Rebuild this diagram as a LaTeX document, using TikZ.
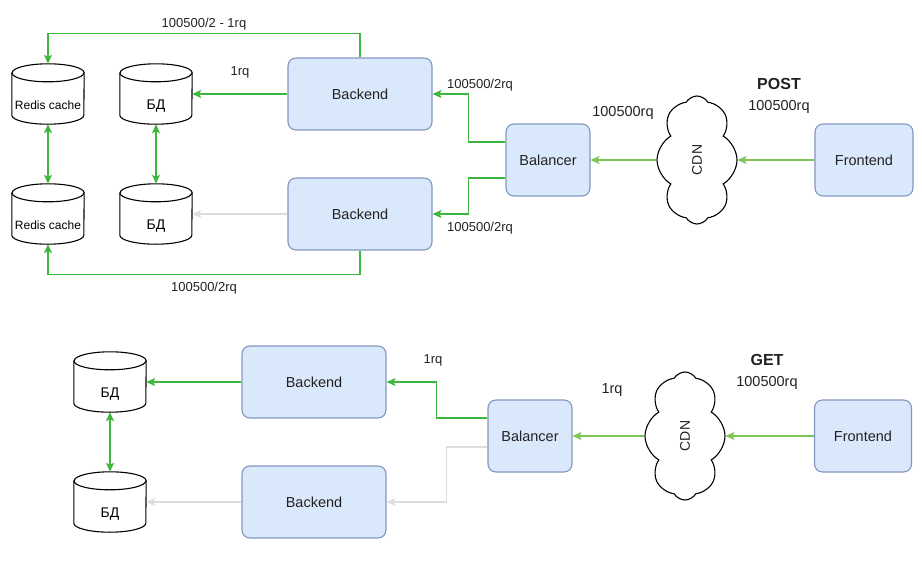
\documentclass[tikz,border=0pt]{standalone}
\usepackage{fontspec}
\setmainfont{Liberation Sans}
\usetikzlibrary{arrows.meta,shapes.symbols}
\definecolor{boxfill}{HTML}{DAE8FC}
\definecolor{boxline}{HTML}{8197BF}
\definecolor{grn}{HTML}{3DB83D}
\definecolor{lgrn}{HTML}{7DC554}
\definecolor{gry}{HTML}{DDDDDD}
\definecolor{txt}{HTML}{222222}
\begin{document}
\begin{tikzpicture}[x=1pt,y=-1pt,
  box/.style={draw=boxline, fill=boxfill, line width=1.1pt, rounded corners=8pt,
    minimum height=72pt, inner sep=0pt, font=\fontsize{14.5}{16}\selectfont, text=txt},
  cylnode/.style={minimum width=72pt, minimum height=60pt, inner sep=0pt,
    text height=45pt, text depth=15pt, font=\fontsize{14}{16}\selectfont, text=black},
  cdn/.style={cloud, draw, line width=1.1pt, cloud puffs=8, cloud puff arc=120,
    aspect=1.6, minimum width=128pt, minimum height=80pt, rotate=90, inner sep=0pt,
    font=\fontsize{14}{16}\selectfont, text=txt},
  garrow/.style={draw=grn, line width=1.3pt, -{Stealth[length=9pt,width=8pt,inset=2pt]}},
  gboth/.style={draw=grn, line width=1.3pt, {Stealth[length=9pt,width=8pt,inset=2pt]}-{Stealth[length=9pt,width=8pt,inset=2pt]}},
  larrow/.style={draw=lgrn, line width=1.3pt, -{Stealth[length=9pt,width=8pt,inset=2pt]}},
  yarrow/.style={draw=gry, line width=1.3pt, -{Stealth[length=9pt,width=8pt,inset=2pt]}},
  lbl/.style={font=\fontsize{13}{15}\selectfont, text=txt, inner sep=0pt},
  biglbl/.style={font=\fontsize{14.5}{16}\selectfont, text=txt, inner sep=0pt},
  boldlbl/.style={font=\fontsize{16}{18}\selectfont\bfseries, text=txt, inner sep=0pt}
]
\useasboundingbox (0,0) rectangle (922,565);

% ---------- POST section ----------
\node[cylnode, font=\fontsize{12}{14}\selectfont] (r1) at (48,94) {Redis cache};
\node[cylnode] (d1) at (156,94) {БД};
\node[cylnode, font=\fontsize{12}{14}\selectfont] (r2) at (48,214) {Redis cache};
\node[cylnode] (d2) at (156,214) {БД};
\node[box, minimum width=144pt] (be1) at (360,94) {Backend};
\node[box, minimum width=144pt] (be2) at (360,214) {Backend};
\node[box, minimum width=84pt] (bal1) at (548,160) {Balancer};
\node[cdn] (cdn1) at (697,160) {CDN};
\node[box, minimum width=98pt] (fe1) at (864,160) {Frontend};

% ---------- GET section ----------
\node[cylnode] (d3) at (110,382) {БД};
\node[cylnode] (d4) at (110,502) {БД};
\node[box, minimum width=144pt] (be3) at (314,382) {Backend};
\node[box, minimum width=144pt] (be4) at (314,502) {Backend};
\node[box, minimum width=84pt] (bal2) at (530,436) {Balancer};
\node[cdn] (cdn2) at (685,436) {CDN};
\node[box, minimum width=97pt] (fe2) at (863,436) {Frontend};

% cylinders
\foreach \n in {r1,r2,d1,d2,d3,d4}{
  \draw[line width=1.1pt] ([yshift=-9pt]\n.north west) -- ([yshift=9pt]\n.south west)
    arc[start angle=180,end angle=360,x radius=36pt,y radius=9pt]
    -- ([yshift=-9pt]\n.north east)
    arc[start angle=0,end angle=180,x radius=36pt,y radius=9pt] -- cycle;
  \draw[line width=1.1pt] ([yshift=-9pt]\n.north west)
    arc[start angle=180,end angle=360,x radius=36pt,y radius=9pt];
}

% POST connectors
\draw[garrow] (be1.north) -- ++(0,-24) -| (r1.north);
\draw[garrow] (be1.west) -- (d1.east);
\draw[yarrow] (be2.west) -- (d2.east);
\draw[garrow] (be2.south) -- ++(0,24) -| (r2.south);
\draw[gboth] (r1.south) -- (r2.north);
\draw[gboth] (d1.south) -- (d2.north);
\draw[garrow] ([yshift=18pt]bal1.west) -- ++(-37,0) |- (be1.east);
\draw[garrow] ([yshift=-18pt]bal1.west) -- ++(-37,0) |- (be2.east);
\draw[larrow] (cdn1) -- (bal1.east);
\draw[larrow] (fe1.west) -- (cdn1);

\node[lbl] (l1) at (204,24) {100500/2 - 1rq};
\node[lbl] (l2) at (240,72) {1rq};
\node[lbl] (l3) at (204,288) {100500/2rq};
\node[lbl] (l4) at (480,85) {100500/2rq};
\node[lbl] (l5) at (480,228) {100500/2rq};
\node[biglbl] (l6) at (623,113) {100500rq};
\node[boldlbl] (l7) at (779,84) {POST};
\node[biglbl] (l8) at (779,107) {100500rq};

% GET connectors
\draw[garrow] (be3.west) -- (d3.east);
\draw[yarrow] (be4.west) -- (d4.east);
\draw[gboth] (d3.south) -- (d4.north);
\draw[garrow] ([yshift=18pt]bal2.west) -- ++(-51,0) |- (be3.east);
\draw[yarrow] ([yshift=-11pt]bal2.west) -- ++(-41,0) |- (be4.east);
\draw[larrow] (cdn2) -- (bal2.east);
\draw[larrow] (fe2.west) -- (cdn2);

\node[lbl] (l9) at (433,360) {1rq};
\node[biglbl] (l10) at (612,390) {1rq};
\node[boldlbl] (l11) at (767,360) {GET};
\node[biglbl] (l12) at (767,383) {100500rq};
\end{tikzpicture}
\end{document}
